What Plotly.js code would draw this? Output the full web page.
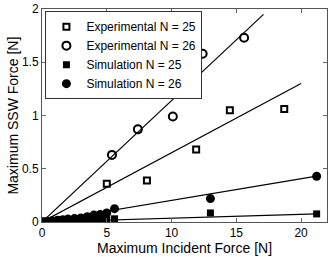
<!DOCTYPE html>
<html><head><meta charset="utf-8">
<script src="https://cdn.plot.ly/plotly-3.0.1.min.js"></script>
<style>html,body{margin:0;padding:0;background:#fff}#c{width:332px;height:257px}</style>
</head><body><div id="c"></div>
<script>
// Experimental N = 25 (open squares)
const exp25X = [5.0, 8.1, 11.9, 14.5, 18.7];
const exp25Y = [0.36, 0.39, 0.68, 1.05, 1.06];
// Experimental N = 26 (open circles)
const exp26X = [5.4, 7.4, 10.1, 12.4, 15.6];
const exp26Y = [0.63, 0.87, 0.99, 1.58, 1.73];
// Simulation N = 25 (filled squares)
const sim25X = [0.1, 0.4, 0.8, 1.2, 1.6, 2.0, 2.5, 3.0, 3.5, 4.0, 4.5, 5.0, 5.6, 13.0, 21.2];
const sim25Y = [0.001, 0.002, 0.003, 0.004, 0.005, 0.006, 0.008, 0.01, 0.012, 0.015, 0.018, 0.022, 0.03, 0.085, 0.076];
// Simulation N = 26 (filled circles)
const sim26X = [0.1, 0.4, 0.8, 1.2, 1.6, 2.0, 2.5, 3.0, 3.5, 4.0, 4.5, 5.0, 5.6, 13.0, 21.2];
const sim26Y = [0.003, 0.007, 0.012, 0.017, 0.022, 0.027, 0.032, 0.038, 0.05, 0.065, 0.07, 0.085, 0.125, 0.22, 0.43];
// Linear fit lines (start and end points)
const fit25ExpX = [0, 20.0], fit25ExpY = [0, 1.30];
const fit26ExpX = [0, 17.1], fit26ExpY = [0, 1.95];
const fit25SimX = [0, 21.2], fit25SimY = [0, 0.076];
const fit26SimX = [0, 21.2], fit26SimY = [0, 0.43];
// Axis titles
const xTitle = 'Maximum Incident Force [N]';
const yTitle = 'Maximum SSW Force [N]';

const lineStyle = {color: '#000', width: 1.2};
const traces = [
  {x: fit25ExpX, y: fit25ExpY, mode: 'lines', line: lineStyle, showlegend: false, hoverinfo: 'skip'},
  {x: fit26ExpX, y: fit26ExpY, mode: 'lines', line: lineStyle, showlegend: false, hoverinfo: 'skip'},
  {x: fit25SimX, y: fit25SimY, mode: 'lines', line: lineStyle, showlegend: false, hoverinfo: 'skip'},
  {x: fit26SimX, y: fit26SimY, mode: 'lines', line: lineStyle, showlegend: false, hoverinfo: 'skip'},
  {x: exp25X, y: exp25Y, mode: 'markers', name: 'Experimental N = 25',
   marker: {symbol: 'square-open', size: 6, color: '#000', line: {width: 2, color: '#000'}}},
  {x: exp26X, y: exp26Y, mode: 'markers', name: 'Experimental N = 26',
   marker: {symbol: 'circle-open', size: 8, color: '#000', line: {width: 2, color: '#000'}}},
  {x: sim25X, y: sim25Y, mode: 'markers', name: 'Simulation N = 25',
   marker: {symbol: 'square', size: 7, color: '#000'}},
  {x: sim26X, y: sim26Y, mode: 'markers', name: 'Simulation N = 26',
   marker: {symbol: 'circle', size: 9, color: '#000'}}
];
const FAM = 'Liberation Sans, Arial, sans-serif';
const axFont = {family: FAM, size: 12, color: '#000'};
const titleFont = {family: FAM, size: 14, color: '#000'};
const layout = {
  width: 332, height: 257,
  margin: {l: 42, r: 5, t: 9, b: 35},
  paper_bgcolor: '#fff', plot_bgcolor: '#fff',
  showlegend: true,
  legend: {x: 0.012, y: 0.99, xanchor: 'left', yanchor: 'top',
    bgcolor: '#fff', bordercolor: '#333', borderwidth: 1,
    font: {family: FAM, size: 12, color: '#000'},
    tracegroupgap: 0},
  xaxis: {range: [0, 22], tickvals: [0, 5, 10, 15, 20], ticks: 'inside', ticklen: 4,
    tickcolor: '#666', showgrid: false, zeroline: false, showline: true, linecolor: '#555',
    linewidth: 1, mirror: 'ticks', tickfont: axFont},
  yaxis: {range: [0, 2], tickvals: [0, 0.5, 1, 1.5, 2], ticktext: ['0', '0.5', '1', '1.5', '2'],
    ticks: 'inside', ticklen: 4, tickcolor: '#666', showgrid: false, zeroline: false,
    showline: true, linecolor: '#555', linewidth: 1, mirror: 'ticks', tickfont: axFont},
  annotations: [
    {text: xTitle, xref: 'paper', yref: 'paper', x: 0.5, y: -0.124, xanchor: 'center', yanchor: 'middle',
     showarrow: false, font: titleFont},
    {text: yTitle, xref: 'paper', yref: 'paper', x: -0.105, y: 0.5, xanchor: 'center', yanchor: 'middle',
     textangle: -90, showarrow: false, font: titleFont}
  ]
};
Plotly.newPlot('c', traces, layout, {displayModeBar: false, staticPlot: true});
</script></body></html>
